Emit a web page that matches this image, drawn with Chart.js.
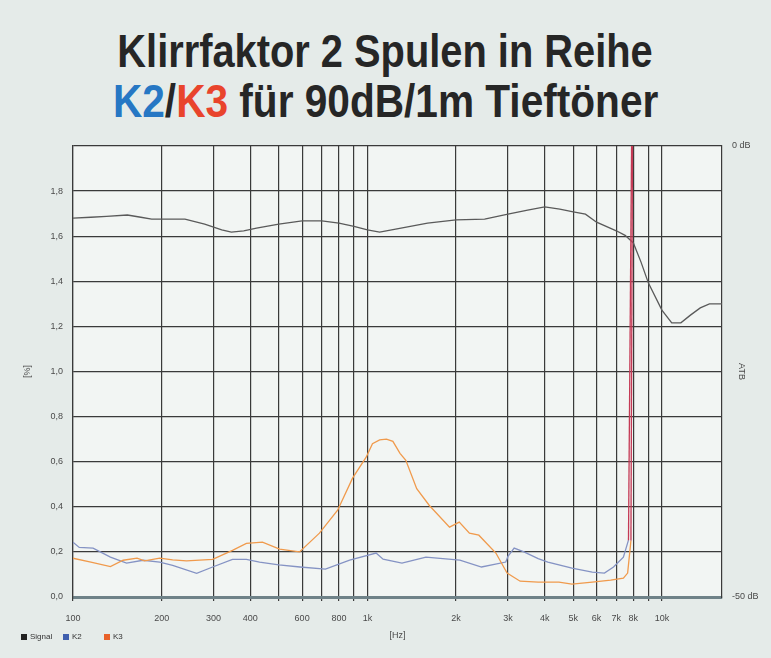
<!DOCTYPE html>
<html>
<head>
<meta charset="utf-8">
<script src="https://cdn.jsdelivr.net/npm/chart.js@4.4.1/dist/chart.umd.min.js"></script>
<style>
  html, body { margin: 0; padding: 0; background: #e5ebe9; }
  #wrap { position: relative; width: 771px; height: 658px; overflow: hidden; }
  #chart { position: absolute; left: 0; top: 0; }
  .title { position: absolute; left: 0; width: 771px; text-align: center; white-space: nowrap;
           font-family: "Liberation Sans Narrow", "Liberation Sans", Arial, sans-serif;
           font-weight: bold; font-size: 47px; line-height: 47px; color: #262626; }
  .title .t { display: inline-block; transform-origin: center; }
  .k2 { color: #2677c4; }
  .k3 { color: #e9442c; }
  .leg { position: absolute; top: 632px; font: 8px "Liberation Sans", Arial, sans-serif; color: #333; white-space: nowrap; }
  .leg i { display: inline-block; width: 6px; height: 6px; margin-right: 3px; vertical-align: -0.5px; }
</style>
</head>
<body>
<div id="wrap">
  <div class="title" style="top:27px"><span class="t" data-w="535">Klirrfaktor 2 Spulen in Reihe</span></div>
  <div class="title" style="top:77px"><span class="t" data-w="545"><span class="k2">K2</span>/<span class="k3">K3</span> für 90dB/1m Tieftöner</span></div>
  <canvas id="chart" width="771" height="658"></canvas>
  <div class="leg" style="left:21px"><i style="background:#222"></i>Signal</div>
  <div class="leg" style="left:63px"><i style="background:#3f5fae"></i>K2</div>
  <div class="leg" style="left:104px"><i style="background:#e8622a"></i>K3</div>
</div>
<script>
// Signal (Pegel, rechte Achse in dB)
const sigHz = [100, 115, 130, 153, 170, 185, 200, 240, 280, 320, 345, 380, 420, 500, 600, 700, 800, 900,
               1000, 1100, 1300, 1600, 2000, 2500, 3000, 3500, 4000, 4500, 5000, 5500, 6000, 7000, 7500,
               8000, 8500, 9000, 10000, 10800, 11600, 12500, 13500, 14500, 16000];
const sigDb = [-8.0, -7.9, -7.8, -7.65, -7.9, -8.1, -8.1, -8.1, -8.65, -9.3, -9.55, -9.4, -9.1, -8.65, -8.3, -8.3, -8.55, -8.9,
               -9.3, -9.55, -9.1, -8.55, -8.2, -8.1, -7.55, -7.1, -6.75, -7.0, -7.3, -7.55, -8.45, -9.4, -9.9,
               -10.75, -12.9, -15.2, -18.2, -19.6, -19.6, -18.75, -17.95, -17.5, -17.5];

// K2 in %
const k2Hz = [100, 105, 117, 134, 152, 173, 197, 218, 263, 298, 348, 388, 430, 500, 590, 720, 870,
              1070, 1130, 1310, 1580, 2060, 2440, 2950, 3000, 3150, 3400, 3800, 4100, 4470, 4950,
              5800, 6380, 6850, 7400, 7700, 8000];
const k2Pct = [0.243, 0.22, 0.217, 0.177, 0.15, 0.163, 0.155, 0.14, 0.105, 0.133, 0.167, 0.167, 0.155, 0.142, 0.133, 0.124, 0.164,
               0.195, 0.168, 0.15, 0.177, 0.164, 0.133, 0.155, 0.18, 0.217, 0.2, 0.17, 0.155, 0.142, 0.128,
               0.11, 0.106, 0.133, 0.177, 0.252, 3.0];

// K3 in %
const k3Hz = [100, 115, 134, 148, 165, 175, 197, 218, 243, 298, 348, 388, 440, 503, 588, 687, 792, 890,
              990, 1040, 1100, 1160, 1220, 1290, 1350, 1470, 1620, 1900, 2050, 2220, 2390, 2730, 2980,
              3300, 3800, 4470, 4950, 5800, 6700, 7400, 7650, 7850, 8000];
const k3Pct = [0.172, 0.155, 0.135, 0.163, 0.172, 0.16, 0.172, 0.165, 0.16, 0.167, 0.207, 0.238, 0.243, 0.212, 0.2, 0.283, 0.385, 0.527,
               0.62, 0.68, 0.697, 0.70, 0.69, 0.637, 0.606, 0.48, 0.407, 0.31, 0.332, 0.283, 0.274, 0.195, 0.106,
               0.07, 0.066, 0.066, 0.057, 0.066, 0.075, 0.084, 0.106, 0.25, 3.0];

// Achsen
const gridHz = [100, 200, 300, 400, 500, 600, 700, 800, 900, 1000, 2000, 3000, 4000, 5000, 6000, 7000, 8000, 9000, 10000];
const labelHz = [100, 200, 300, 400, 600, 800, 1000, 2000, 3000, 4000, 5000, 6000, 7000, 8000, 10000];
const labelText = ['100', '200', '300', '400', '600', '800', '1k', '2k', '3k', '4k', '5k', '6k', '7k', '8k', '10k'];
const dbTicks = [-50, 0];

function pts(xs, ys) { return xs.map((x, i) => ({ x: x, y: ys[i] })); }

// Titel auf Zielbreite stauchen
document.querySelectorAll('.title .t').forEach(function(el) {
    const w = parseFloat(el.dataset.w);
    el.style.transform = 'scaleX(' + (w / el.offsetWidth).toFixed(3) + ')';
});

const plotBg = {
    id: 'plotBg',
    beforeDraw(chart) {
        const a = chart.chartArea, ctx = chart.ctx;
        ctx.save();
        ctx.fillStyle = '#f2f5f3';
        ctx.fillRect(a.left, a.top, a.right - a.left, a.bottom - a.top);
        ctx.restore();
    }
};

const gridDark = '#3a3a3a';
const spikeColor = '#c43a55';
const tickFont = { family: 'Liberation Sans, Arial, sans-serif', size: 9 };
// Übersteuerung ab 8 kHz (Wert außerhalb der Skala)
const spike = { borderColor: ctx => ctx.p1.parsed.y > 2 ? spikeColor : undefined };

new Chart(document.getElementById('chart').getContext('2d'), {
    type: 'line',
    data: {
        datasets: [
            {
                label: 'K3', data: pts(k3Hz, k3Pct), yAxisID: 'y', order: 0,
                borderColor: '#f09a4c', borderWidth: 1.3, pointRadius: 0, segment: spike
            },
            {
                label: 'K2', data: pts(k2Hz, k2Pct), yAxisID: 'y', order: 1,
                borderColor: '#8593c4', borderWidth: 1.3, pointRadius: 0, segment: spike
            },
            {
                label: 'Signal', data: pts(sigHz, sigDb), yAxisID: 'y2', order: 2,
                borderColor: '#5a5a5a', borderWidth: 1.3, pointRadius: 0
            }
        ]
    },
    options: {
        responsive: false,
        animation: false,
        layout: { padding: { top: 146, left: 0, right: 0, bottom: 0 } },
        plugins: { legend: { display: false }, tooltip: { enabled: false } },
        scales: {
            x: {
                type: 'logarithmic', min: 100, max: 16000,
                afterBuildTicks: s => { s.ticks = gridHz.map(v => ({ value: v })); },
                afterFit: s => { s.height = 61; },
                grid: { color: gridDark, lineWidth: 1.2, tickLength: 4 },
                border: { color: '#6f8288', width: 3 },
                ticks: {
                    autoSkip: false, maxRotation: 0, padding: 12, color: '#4a4a4a', font: tickFont,
                    callback: v => { const i = labelHz.indexOf(v); return i < 0 ? '' : labelText[i]; }
                },
                title: { display: true, text: '[Hz]', color: '#4a4a4a', font: tickFont, padding: { top: 0, bottom: 17 } }
            },
            y: {
                position: 'left', min: 0, max: 2,
                afterFit: s => { s.width = 73; },
                grid: {
                    drawTicks: false, lineWidth: c => c.tick.value === 0 ? 3 : 1.3,
                    color: c => c.tick.value === 0 ? '#6f8288' : gridDark
                },
                border: { color: gridDark, width: 1.2 },
                ticks: {
                    stepSize: 0.2, padding: 10, color: '#4a4a4a', font: tickFont,
                    callback: v => v > 1.9 ? '' : v.toFixed(1).replace('.', ',')
                },
                title: { display: true, text: '[%]', color: '#4a4a4a', font: tickFont, padding: { top: 22, bottom: 0 } }
            },
            y2: {
                position: 'right', min: -50, max: 0,
                afterBuildTicks: s => { s.ticks = dbTicks.map(v => ({ value: v })); },
                afterFit: s => { s.width = 49; },
                grid: { display: false },
                border: { color: gridDark, width: 1.2 },
                ticks: { padding: 2, color: '#4a4a4a', font: tickFont, callback: v => v + ' dB' },
                title: { display: true, text: 'ATB', color: '#4a4a4a', font: tickFont, padding: { top: 24, bottom: 0 } }
            }
        }
    },
    plugins: [plotBg]
});
</script>
</body>
</html>
